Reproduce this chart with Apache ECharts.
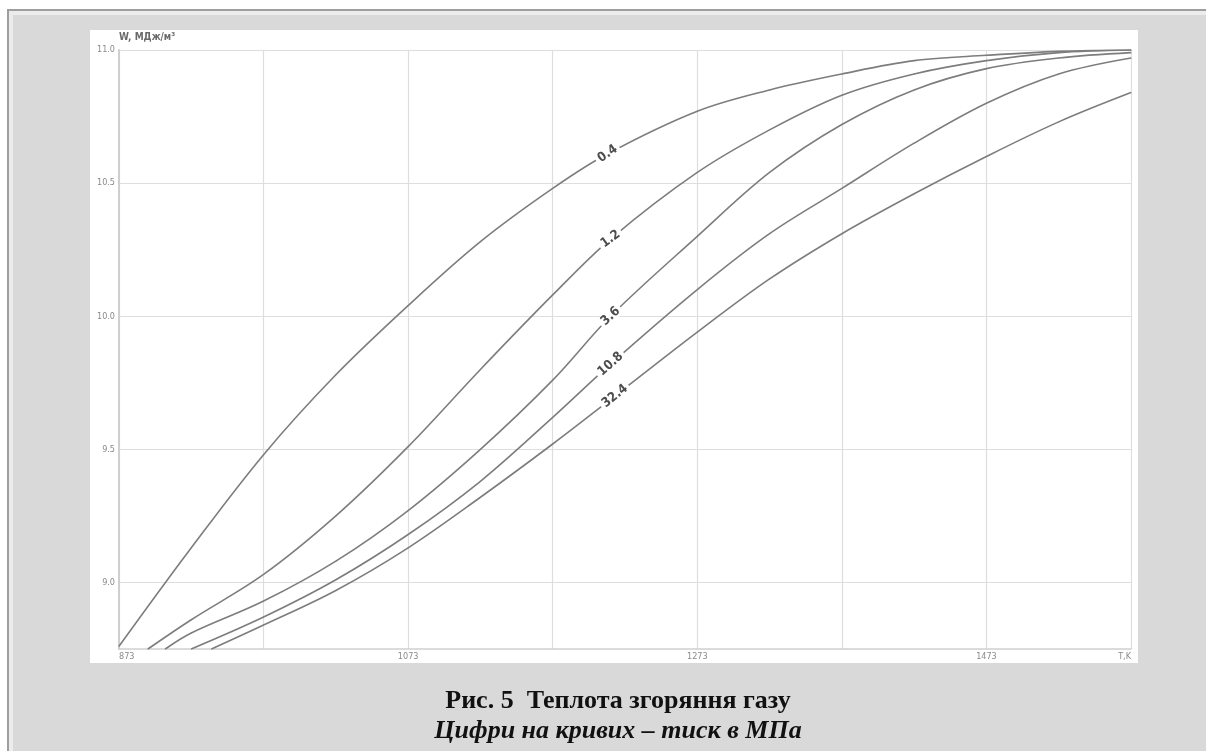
<!DOCTYPE html>
<html>
<head>
<meta charset="utf-8">
<script src="https://cdn.jsdelivr.net/npm/echarts@6/dist/echarts.min.js"></script>
<style>
  html, body { margin: 0; padding: 0; background: #fff; width: 1206px; height: 751px; overflow: hidden; }
  #frame {
    position: absolute; left: 7px; top: 9px; width: 1220px; height: 760px;
    border-top: 2px solid #9e9e9e; border-left: 2px solid #9e9e9e;
    background: #d9d9d9;
    box-shadow: inset 0 4px 0 #ececec, inset 4px 0 0 #ececec;
  }
  #panel { position: absolute; left: 90px; top: 30px; width: 1048px; height: 633px; background: #fff; }
  #chart { position: absolute; left: 0; top: 0; width: 1206px; height: 751px; }
</style>
</head>
<body>
<div id="frame"></div>
<div id="panel"></div>
<div id="chart"></div>
<script>
// Heat of combustion of gas W (MJ/m3) vs temperature T (K), one curve per pressure (MPa)
const T0 = 873;                       // temperature at the left edge of the x axis, K
const T_MAX = 1573;                   // temperature at the right edge, K
const xTickLabels = ['873', '1073', '1273', '1473'];
const xAxisUnit = 'T,K';
const yAxisName = 'W, МДж/м³';

const pressures = ['0.4', '1.2', '3.6', '10.8', '32.4'];

const t_04 = [873, 923, 973, 1023, 1073, 1123, 1173, 1211, 1273, 1323, 1373, 1423, 1473, 1523, 1573];
const w_04 = [8.76, 9.13, 9.48, 9.78, 10.04, 10.28, 10.48, 10.61, 10.77, 10.85, 10.91, 10.96, 10.98, 10.995, 11.0];

const t_12 = [893, 923, 973, 1023, 1073, 1123, 1173, 1213, 1273, 1323, 1373, 1423, 1473, 1523, 1573];
const w_12 = [8.75, 8.86, 9.03, 9.25, 9.51, 9.80, 10.08, 10.29, 10.54, 10.70, 10.83, 10.91, 10.96, 10.99, 11.0];

const t_36 = [905, 923, 973, 1023, 1073, 1123, 1173, 1213, 1273, 1323, 1373, 1423, 1473, 1523, 1573];
const w_36 = [8.75, 8.81, 8.93, 9.08, 9.27, 9.50, 9.76, 10.00, 10.30, 10.54, 10.72, 10.85, 10.93, 10.97, 10.99];

const t_108 = [923, 973, 1023, 1073, 1123, 1173, 1213, 1273, 1323, 1373, 1423, 1473, 1523, 1573];
const w_108 = [8.75, 8.87, 9.01, 9.18, 9.38, 9.62, 9.82, 10.10, 10.31, 10.48, 10.65, 10.80, 10.91, 10.97];

const t_324 = [937, 973, 1023, 1073, 1123, 1173, 1216, 1273, 1323, 1373, 1423, 1473, 1523, 1573];
const w_324 = [8.75, 8.84, 8.97, 9.13, 9.32, 9.52, 9.70, 9.94, 10.14, 10.31, 10.46, 10.60, 10.73, 10.84];

// temperature at which each curve carries its pressure label
const labelT = [1211, 1213, 1213, 1213, 1216];

const curveT = [t_04, t_12, t_36, t_108, t_324];
const curveW = [w_04, w_12, w_36, w_108, w_324];

// ---- styling ----
const labelAngles = [35, 36, 43, 42, 39];
const lineColor = '#7d7d7d';
const gridColor = '#dedede';
const narrow = 'Liberation Sans Narrow, DejaVu Sans Condensed, sans-serif';

const series = pressures.map((p, k) => ({
  type: 'line',
  name: p,
  smooth: 0.35,
  symbol: 'circle',
  symbolSize: 1,
  showSymbol: true,
  itemStyle: { color: lineColor },
  lineStyle: { color: lineColor, width: 1.6 },
  label: { show: false },
  emphasis: { disabled: true },
  silent: true,
  data: curveT[k].map((t, i) => {
    const item = { value: [t - T0, curveW[k][i]] };
    if (t === labelT[k]) {
      item.label = {
        show: true,
        position: 'inside',
        formatter: p,
        rotate: labelAngles[k],
        color: '#4d4d4d',
        fontFamily: narrow,
        fontWeight: 'bold',
        fontSize: 13,
        backgroundColor: '#ffffff',
        padding: [0, 3]
      };
    }
    return item;
  })
}));

const chart = echarts.init(document.getElementById('chart'), null, { renderer: 'canvas' });
chart.setOption({
  animation: false,
  backgroundColor: 'transparent',
  title: {
    text: 'Рис. 5  Теплота згоряння газу',
    subtext: 'Цифри на кривих – тиск в МПа',
    left: 613,
    top: 681,
    textAlign: 'center',
    itemGap: 0,
    textStyle: { fontFamily: 'Liberation Serif', fontWeight: 'bold', fontSize: 26, color: '#111', lineHeight: 30 },
    subtextStyle: { fontFamily: 'Liberation Serif', fontWeight: 'bold', fontStyle: 'italic', fontSize: 26, color: '#111', lineHeight: 30 }
  },
  grid: { left: 119, top: 50, right: 1206 - 1131, bottom: 751 - 649, containLabel: false },
  xAxis: {
    type: 'value',
    min: 0,
    max: T_MAX - T0,
    interval: 100,
    axisLine: { show: true, lineStyle: { color: '#cfcfcf', width: 1.5 } },
    axisTick: { show: false },
    splitLine: { show: true, lineStyle: { color: gridColor, width: 1.2 } },
    axisLabel: {
      margin: 3,
      color: '#8a8a8a',
      fontSize: 9,
      fontFamily: narrow,
      alignMinLabel: 'left',
      alignMaxLabel: 'right',
      formatter: v => {
        if (v === T_MAX - T0) return xAxisUnit;
        const s = String(v + T0);
        return xTickLabels.includes(s) ? s : '';
      }
    }
  },
  yAxis: {
    type: 'value',
    min: 8.75,
    max: 11.0,
    interval: 0.25,
    name: yAxisName,
    nameLocation: 'end',
    nameGap: 8,
    nameTextStyle: { align: 'left', color: '#6a6a6a', fontSize: 10, fontWeight: 'bold', fontFamily: narrow },
    axisLine: { show: true, lineStyle: { color: '#cfcfcf', width: 2 } },
    axisTick: { show: false },
    splitLine: { show: true, lineStyle: { color: ['rgba(0,0,0,0)', gridColor], width: 1.2 } },
    axisLabel: {
      margin: 4,
      color: '#8a8a8a',
      fontSize: 9,
      fontFamily: narrow,
      formatter: v => (Math.abs(v * 2 - Math.round(v * 2)) < 1e-6 ? v.toFixed(1) : '')
    }
  },
  series: series
});
</script>
</body>
</html>
